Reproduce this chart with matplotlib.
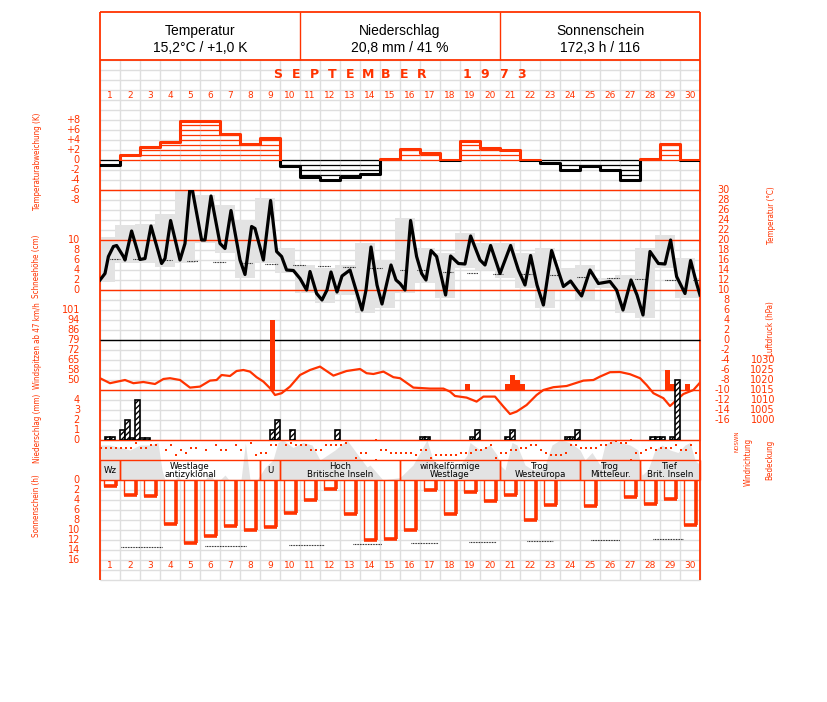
import matplotlib
matplotlib.use("Agg")
import matplotlib.pyplot as plt
from matplotlib.patches import Rectangle
from matplotlib import font_manager as fm
import numpy as np

plt.rcParams['font.family'] = ['DejaVu Sans']

# ---------------- data ----------------
days = list(range(1, 31))
header_titles = ["Temperatur", "Niederschlag", "Sonnenschein"]
header_values = ["15,2°C / +1,0 K", "20,8 mm / 41 %", "172,3 h / 116"]
month_title = "SEPTEMBER 1973"

# daily temperature deviation (K)
temp_dev = [-1.0, 1.1, 2.7, 3.7, 7.9, 7.9, 5.3, 3.3, 4.5, -1.2,
            -3.3, -3.9, -3.3, -2.8, 0.2, 2.2, 1.5, 0.1, 3.8, 2.5,
            2.0, 0.0, -0.5, -1.9, -1.2, -1.9, -3.9, 0.3, 3.3, 0.1]

# temperature course (time in days since 1 Sep 00h, degC)
temp_t = [0.0, 0.25, 0.42, 0.67, 0.83, 1.17, 1.25, 1.58, 2.0, 2.25,
          2.55, 3.08, 3.25, 3.53, 4.0, 4.25, 4.53, 5.08, 5.25, 5.55,
          6.0, 6.25, 6.55, 7.0, 7.25, 7.58, 7.75, 8.17, 8.53, 8.83,
          9.08, 9.33, 9.67, 10.0, 10.33, 10.5, 10.83, 11.1, 11.35, 11.55,
          11.85, 12.1, 12.5, 12.8, 13.1, 13.3, 13.55, 13.85, 14.1, 14.55,
          14.8, 15.0, 15.25, 15.53, 15.83, 16.08, 16.3, 16.55, 16.83, 17.28,
          17.53, 17.92, 18.25, 18.53, 19.0, 19.25, 19.53, 20.0, 20.53, 20.92,
          21.25, 21.53, 21.85, 22.17, 22.58, 23.17, 23.53, 23.85, 24.08, 24.5,
          24.92, 25.5, 25.83, 26.15, 26.55, 26.85, 27.15, 27.5, 27.92, 28.25,
          28.53, 28.83, 29.25, 29.53, 29.83, 30.0]
temp_c = [12.0, 13.3, 16.7, 18.7, 18.9, 16.7, 16.0, 21.8, 16.1, 16.3,
          22.8, 15.3, 16.3, 23.9, 16.0, 19.3, 31.9, 20.0, 20.0, 28.8,
          19.3, 18.3, 25.9, 16.0, 13.1, 22.7, 22.3, 16.0, 27.9, 17.7,
          16.7, 14.0, 13.9, 12.3, 10.0, 13.7, 9.3, 8.0, 10.0, 13.6,
          9.6, 12.8, 14.0, 10.0, 6.0, 10.0, 18.6, 11.0, 7.2, 15.0,
          12.0, 11.3, 10.0, 23.9, 16.7, 13.3, 12.0, 17.9, 16.7, 9.0,
          16.8, 15.3, 15.2, 20.8, 16.0, 15.0, 18.9, 13.3, 18.9, 14.0,
          11.0, 16.9, 11.0, 7.0, 17.9, 10.7, 11.8, 10.0, 8.8, 14.0,
          11.3, 11.7, 10.0, 6.0, 12.0, 9.0, 5.0, 17.7, 15.3, 15.2,
          20.0, 12.7, 9.3, 15.9, 11.3, 9.0]

# daily max / min (18h - 18h periods), 31 periods starting 31 Aug 18h
tmax = [20.7, 23.0, 23.3, 25.3, 32.2, 29.0, 27.0, 24.0, 28.5, 18.5,
        15.0, 14.5, 15.0, 19.5, 16.0, 24.5, 18.5, 17.5, 21.5, 19.5,
        19.5, 17.5, 18.5, 14.5, 15.0, 12.5, 13.0, 18.5, 21.0, 16.5, 12.5]
tmin = [11.7, 15.5, 15.5, 14.7, 15.5, 19.5, 17.5, 12.5, 15.5, 13.5,
        9.5, 7.5, 9.0, 5.5, 6.5, 9.5, 11.5, 8.5, 14.5, 14.0,
        12.5, 10.5, 6.5, 10.0, 8.0, 10.5, 5.5, 4.5, 14.5, 8.5, 8.5]

# climatological mean temperature (dotted), start day, end day, degC
tnorm_start = [0.5, 1.65, 3.25, 4.35, 5.65, 7.0, 8.25, 9.65, 10.9, 12.15, 13.5, 15.0,
               15.85, 17.15, 18.35, 19.65, 21.1, 22.5, 23.85, 25.35, 26.75, 28.25, 29.65]
tnorm_end = [1.0, 2.25, 3.6, 4.9, 6.3, 7.6, 8.9, 10.25, 11.5, 12.75, 14.1, 15.25,
             16.4, 17.65, 18.9, 20.15, 21.6, 23.0, 24.35, 26.0, 27.35, 28.85, 30.0]
tnorm_val = [16.3, 16.2, 16.0, 15.8, 15.6, 15.4, 15.2, 15.0, 14.8, 14.6, 14.4, 14.1,
             14.0, 13.7, 13.5, 13.3, 13.2, 13.0, 12.7, 12.5, 12.3, 12.1, 12.0]

# air pressure (hPa)
pres_t = [0.0, 0.5, 1.25, 1.67, 2.17, 2.75, 3.17, 3.5, 4.0, 4.5,
          5.0, 5.5, 5.83, 6.08, 6.5, 6.83, 7.17, 7.5, 7.83, 8.17,
          8.5, 8.75, 9.08, 9.5, 10.0, 10.5, 11.0, 11.67, 12.33, 13.0,
          13.33, 13.67, 14.17, 14.67, 15.0, 15.67, 16.5, 17.17, 17.5, 17.75,
          18.33, 18.83, 19.17, 19.75, 20.17, 20.5, 20.83, 21.33, 21.83, 22.17,
          22.67, 23.33, 24.17, 24.67, 25.0, 25.5, 26.0, 26.5, 27.0, 27.33,
          27.67, 28.17, 28.5, 28.83, 29.17, 29.67, 30.0]
pres_hpa = [1020.9, 1018.4, 1020.0, 1018.4, 1019.0, 1018.0, 1020.5, 1020.9, 1020.0, 1016.2,
            1016.7, 1019.7, 1020.0, 1022.5, 1022.0, 1024.5, 1025.0, 1024.2, 1021.4, 1019.2,
            1015.9, 1012.5, 1013.4, 1016.7, 1022.5, 1025.0, 1026.7, 1022.2, 1024.5, 1025.5,
            1023.4, 1023.0, 1024.2, 1021.4, 1020.9, 1016.2, 1015.7, 1015.7, 1014.2, 1012.0,
            1011.2, 1009.2, 1011.7, 1011.7, 1006.7, 1003.0, 1004.2, 1007.5, 1012.5, 1015.0,
            1016.4, 1017.0, 1019.7, 1020.0, 1021.7, 1023.9, 1024.0, 1022.9, 1020.9, 1017.5,
            1013.4, 1010.9, 1007.0, 1010.0, 1013.0, 1015.0, 1018.7]

# wind gusts >= 47 km/h (6-hourly slot start, km/h)
gust_t = [8.5, 18.25, 20.25, 20.5, 20.75, 21.0, 28.25, 28.5, 29.25]
gust_kmh = [94, 47, 47, 54, 50, 47, 57, 47, 47]

# precipitation (6-hourly slot start, mm)
prec_t = [0.25, 0.5, 1.0, 1.25, 1.5, 1.75, 2.0, 2.25, 8.5, 8.75, 9.5, 11.75,
          16.0, 16.25, 18.5, 18.75, 20.25, 20.5, 23.25, 23.5, 23.75,
          27.5, 27.75, 28.0, 28.5, 28.75]
prec_mm = [0.3, 0.3, 1.0, 2.0, 0.2, 4.0, 0.2, 0.2, 1.0, 2.0, 1.0, 1.0,
           0.3, 0.3, 0.3, 1.0, 0.3, 1.0, 0.3, 0.3, 1.0,
           0.3, 0.3, 0.3, 0.3, 6.0]

# wind direction, 6-hourly
wind_dir = ['SW', 'SW', 'SW', 'SW', 'SW', 'SW', 'SW', 'NW', 'SW', 'SW',
            'W', 'W', '', 'S', 'W', 'E', 'S', 'SE', 'SW', 'SW',
            '', 'S', '', 'W', 'S', 'S', '', 'W', 'S', '',
            'NW', 'E', 'SE', 'SE', 'W', 'W', '', 'W', 'NW', 'W',
            'W', 'W', 'S', 'S', 'S', 'W', 'W', 'W', 'W', 'NW',
            '', 'NE', 'SE', 'SE', '', 'N', 'S', 'S', 'SE', 'SE',
            'SE', 'SE', 'SE', 'E', 'S', 'S', 'NE', 'E', 'E', 'E',
            'E', 'E', 'SE', 'SE', 'SE', 'S', 'S', 'SW', 'W', 'NE',
            'SE', 'SE', 'S', 'S', 'SW', 'SW', 'W', 'W', 'S', 'SE',
            'E', 'E', 'E', 'SE', 'W', 'W', 'SW', 'SW', 'SW', 'SW',
            'W', 'W', 'NW', 'NNW', 'NW', 'NW', 'N', 'SE', 'SE', 'S',
            'SW', 'S', 'SW', 'SW', 'SW', 'W', 'S', 'S', 'W', 'SE']
compass = {'N': 360, 'NNW': 337.5, 'NW': 315, 'W': 270, 'SW': 225, 'S': 180,
           'SE': 135, 'E': 90, 'NE': 45}

# cloud cover (okta)
cloud_t = [0.0, 0.5, 1.0, 1.5, 2.0, 2.5, 2.9, 3.1, 3.25, 3.75, 3.9, 4.05,
           5.25, 5.5, 5.7, 6.0, 6.25, 6.45, 7.05, 7.27, 7.5, 7.85, 8.25, 8.65,
           8.9, 9.15, 9.65, 10.15, 10.6, 11.0, 11.75, 12.35, 12.9, 13.35, 13.5, 14.15,
           15.0, 15.65, 16.35, 16.65, 17.0, 17.5, 18.0, 18.35, 18.5, 19.0, 19.5, 19.85,
           20.0, 20.25, 20.6, 20.85, 21.25, 21.65, 22.25, 22.6, 23.0, 23.5, 24.0, 24.25,
           24.6, 25.0, 25.25, 25.6, 26.0, 26.5, 26.9, 27.1, 27.4, 27.75, 28.1, 28.5,
           28.9, 29.25, 29.5, 29.75, 30.0]
cloud_okta = [7, 7, 6.5, 6, 7, 7, 7.5, 2, 0, 0, 1, 0,
              0, 1.4, 0, 0, 1, 0, 0, 7.4, 0, 0, 2.5, 4,
              7.5, 8, 6.5, 7.5, 7, 4, 6, 8, 5, 2.6, 3, 0,
              0.5, 3, 8, 4, 3, 2.5, 3, 5, 7.5, 6, 7, 5,
              3, 2, 7.5, 7, 3, 2, 3, 7, 8, 7.5, 6, 4,
              5.5, 3, 7, 8, 7.5, 7, 6, 1, 2, 6, 7, 6,
              5.5, 7, 7.5, 4, 3]

# sunshine duration (h)
sun_h = [1.2, 2.9, 3.2, 8.7, 12.5, 11.1, 9.1, 9.9, 9.3, 6.5,
         4.0, 1.7, 6.7, 11.9, 11.7, 9.9, 1.9, 6.7, 2.3, 4.1,
         2.9, 8.0, 4.9, 0.0, 5.1, 0.0, 3.3, 4.7, 3.7, 9.0]
# astronomically possible sunshine (dotted)
sunpos_start = [1.03, 5.25, 9.45, 12.65, 15.55, 18.45, 21.35, 24.55, 27.65]
sunpos_end = [3.08, 7.3, 11.2, 14.1, 16.9, 19.8, 22.65, 26.0, 29.15]
sunpos_h = [13.4, 13.2, 13.0, 12.8, 12.5, 12.4, 12.2, 12.0, 11.8]

# weather types (Grosswetterlagen)
wtype_start = [1, 2, 9, 10, 16, 21, 25, 28]
wtype_end = [1, 8, 9, 15, 20, 24, 27, 30]
wtype_label = ["Wz", "Westlage\nantizyklonal", "U", "Hoch\nBritische Inseln",
               "winkelförmige\nWestlage", "Trog\nWesteuropa", "Trog\nMitteleur.",
               "Tief\nBrit. Inseln"]

# axis tick labels
dev_ticks = [8, 6, 4, 2, 0, -2, -4, -6, -8]
dev_labels = ["+8", "+6", "+4", "+2", "0", "-2", "-4", "-6", "-8"]
snow_ticks = [10, 8, 6, 4, 2, 0]
temp_ticks = list(range(30, -17, -2))
pres_ticks = [1030, 1025, 1020, 1015, 1010, 1005, 1000]
gust_labels = ["101", "94", "86", "79", "72", "65", "58", "50"]
prec_ticks = [4, 3, 2, 1, 0]
sun_ticks = [0, 2, 4, 6, 8, 10, 12, 14, 16]

# ---------------- layout ----------------
W, H = 827, 702
X0, X1 = 100, 700
RED = '#ff3300'
GRID = '#dedede'
GRAY = '#e3e3e3'

# narrow font for the rotated axis titles, if one is available
_fonts = fm.fontManager.ttflist
_names = {f.name for f in _fonts}
if 'Liberation Sans Narrow' in _names:
    NARROW = dict(family='Liberation Sans Narrow', fontsize=6.3)
elif any(f.name == 'DejaVu Sans' and 'condensed' in str(f.stretch) for f in _fonts):
    NARROW = dict(family='DejaVu Sans', stretch='condensed', fontsize=5.8)
else:
    NARROW = dict(family='DejaVu Sans', fontsize=5.4)

fig = plt.figure(figsize=(W / 100, H / 100), dpi=100)


def full_axes(z):
    ax = fig.add_axes([0, 0, 1, 1])
    ax.set_xlim(-X0 / 20, (W - X0) / 20)   # x in days, 20 px per day
    ax.set_ylim(H, 0)                       # y in pixels
    ax.axis('off')
    ax.patch.set_visible(False)
    ax.set_zorder(z)
    return ax


def panel(ytop, ybot, ylim, z):
    ax = fig.add_axes([X0 / W, 1 - ybot / H, (X1 - X0) / W, (ybot - ytop) / H])
    ax.set_xlim(0, 30)
    ax.set_ylim(*ylim)
    ax.axis('off')
    ax.patch.set_visible(False)
    ax.set_zorder(z)
    return ax


ndays = len(days)
bg = full_axes(0)
# light grid (day columns, 10 px rows)
for (ya, yb) in [(60, 440), (480, 580)]:
    bg.vlines(np.arange(ndays + 1), ya, yb, color=GRID, lw=1.0)
    bg.hlines(np.arange(ya, yb + 1, 10), 0, ndays, color=GRID, lw=1.0)

# gray daily temperature range (18h-18h)
ax_tg = panel(190, 420, (-16, 30), 1)
per_left = np.arange(len(tmax)) - 0.25
ax_tg.bar(per_left, np.array(tmax) - np.array(tmin), bottom=tmin, width=1.0,
          align='edge', color=GRAY, lw=0)

# cloud cover
ax_c = panel(440, 480, (0, 8), 1)
ax_c.fill_between(cloud_t, 0, cloud_okta, color=GRAY, lw=0)

fg = full_axes(2)
# frame & red lines
fg.vlines([0, ndays], 12, 580, color=RED, lw=1.3)
fg.hlines([12, 60], 0, ndays, color=RED, lw=1.3)
fg.vlines([10, 20], 12, 60, color=RED, lw=1.0)
fg.hlines([190, 240, 290, 390, 440, 460, 480], 0, ndays, color=RED, lw=1.0)
fg.hlines([340], 0, ndays, color='black', lw=1.0)
for s, e in zip(wtype_start, wtype_end):
    fg.vlines([s - 1, e], 460, 480, color=RED, lw=1.0)

# header
for i, (t, v) in enumerate(zip(header_titles, header_values)):
    fg.text(5 + 10 * i, 31, t, ha='center', va='center', fontsize=10,
            family='Liberation Sans', color='black')
    fg.text(5 + 10 * i, 48, v, ha='center', va='center', fontsize=10,
            family='Liberation Sans', color='black')

# month title, spaced letters
title_chars = [c for c in month_title if c != ' ']
xs = [8.9 + 0.9 * k for k in range(9)] + [18.35, 19.25, 20.15, 21.05]
for c, x in zip(title_chars, xs):
    fg.text(x, 75, c, ha='center', va='center', fontsize=9, weight='bold',
            color=RED)

for d in days:
    fg.text(d - 0.5, 96, str(d), ha='center', va='center', fontsize=6.5, color=RED)
    fg.text(d - 0.5, 565, str(d), ha='center', va='center', fontsize=6.5, color=RED)

# rotated axis titles
lab_kw = dict(rotation=90, ha='center', va='center', color=RED, **NARROW)
fg.text(-3.15, 161, "Temperaturabweichung (K)", **lab_kw)
fg.text(-3.15, 266, "Schneehöhe (cm)", **lab_kw)
fg.text(-3.15, 346, "Windspitzen ab 47 km/h", **lab_kw)
fg.text(-3.15, 428, "Niederschlag (mm)", **lab_kw)
fg.text(-3.15, 506, "Sonnenschein (h)", **lab_kw)
fg.text(33.55, 215, "Temperatur (°C)", **lab_kw)
fg.text(33.55, 329, "Luftdruck (hPa)", **lab_kw)
fg.text(32.4, 462, "Windrichtung", **lab_kw)
fg.text(33.5, 460, "Bedeckung", **lab_kw)
fg.text(31.85, 441, "NOSWN", rotation=90, ha='center', va='center', color=RED,
        fontsize=4)

# weather type labels
for s, e, lab in zip(wtype_start, wtype_end, wtype_label):
    fg.text((s - 1 + e) / 2, 470.5, lab, ha='center', va='center', fontsize=6.2,
            color='black', linespacing=0.95)

tick_kw = dict(ha='right', va='center', color=RED, fontsize=7)

# ---- temperature deviation ----
ax_d = panel(100, 200, (-8, 12), 3)
edges = np.arange(ndays + 1)
step_vals = temp_dev + [temp_dev[-1]]
for i, v in enumerate(temp_dev):
    col = RED if v >= 0 else 'black'
    sgn = 1 if v >= 0 else -1
    nlev = int(np.ceil(abs(v) - 0.05))
    for k in range(nlev):
        ax_d.hlines(sgn * k, i, i + 1, color=col, lw=0.9)
for col, (y0, y1) in [(RED, (-0.15, 20)), ('black', (-20, -0.15))]:
    ln, = ax_d.step(edges, step_vals, where='post', color=col, lw=2.2)
    clip = Rectangle((0, y0), 30, y1 - y0, transform=ax_d.transData)
    ln.set_clip_path(clip)
for t, l in zip(dev_ticks, dev_labels):
    ax_d.text(-1.0, t, l, **tick_kw)

# ---- snow scale (labels only) ----
ax_sn = panel(190, 290, (0, 20), 3)
for t in snow_ticks:
    ax_sn.text(-1.0, t, str(t), **tick_kw)

# ---- temperature curve ----
ax_t = panel(190, 420, (-16, 30), 4)
for s, e, v in zip(tnorm_start, tnorm_end, tnorm_val):
    ax_t.plot([s, e], [v, v], color='black', lw=0.8, linestyle=(0, (0.7, 0.75)))
ax_t.plot(temp_t, temp_c, color='black', lw=2.3, solid_joinstyle='round')
for t in temp_ticks:
    ax_t.text(31.5, t, str(t), **tick_kw)

# ---- wind gusts ----
gust_base = 50 - 10 * 51 / 70
ax_g = panel(310, 390, (gust_base, 101), 3)
ax_g.bar(gust_t, np.array(gust_kmh) - gust_base, bottom=gust_base, width=0.25,
         align='edge', color=RED, lw=0)
for k, l in enumerate(gust_labels):
    ax_g.text(-1.0, 101 - k * 51 / 7, l, **tick_kw)

# ---- pressure ----
ax_p = panel(340, 440, (990, 1040), 4)
ax_p.plot(pres_t, pres_hpa, color=RED, lw=1.6)
for t in pres_ticks:
    ax_p.text(33.75, t, str(t), **tick_kw)

# ---- precipitation ----
ax_r = panel(370, 440, (0, 7), 5)
ax_r.bar(prec_t, prec_mm, width=0.25, align='edge', facecolor='white',
         edgecolor='black', hatch='//////', lw=1.2)
for t in prec_ticks:
    ax_r.text(-1.0, t, str(t), **tick_kw)

# ---- wind direction ----
ax_w = panel(440, 460, (0, 360), 5)
wt, wd = [], []
for i, d in enumerate(wind_dir):
    if d == '':
        continue
    deg = compass[d]
    wt.append(i / 4 + 0.06)
    wd.append(deg)
    if deg == 360:
        wt.append(i / 4 + 0.06)
        wd.append(0)
ax_w.plot(wt, wd, ls='none', marker='s', ms=2.0, color=RED, mec=RED, mew=0,
          clip_on=False)

# ---- sunshine ----
ax_s = panel(480, 560, (16, 0), 5)
lefts = np.arange(ndays) + 0.2
rights = np.arange(ndays) + 0.8
for l, r, h in zip(lefts, rights, sun_h):
    if h <= 0:
        continue
    ax_s.vlines(l, 0, h, color=RED, lw=1.0)
    ax_s.vlines(r, 0, h, color=RED, lw=2.6)
    ax_s.hlines(h, l, r + 0.06, color=RED, lw=2.6)
for s, e, v in zip(sunpos_start, sunpos_end, sunpos_h):
    ax_s.plot([s, e], [v, v], color='black', lw=0.8, linestyle=(0, (0.7, 0.75)))
for t in sun_ticks:
    ax_s.text(-1.0, t, str(t), **tick_kw)

fig.savefig("out.png", dpi=100)
